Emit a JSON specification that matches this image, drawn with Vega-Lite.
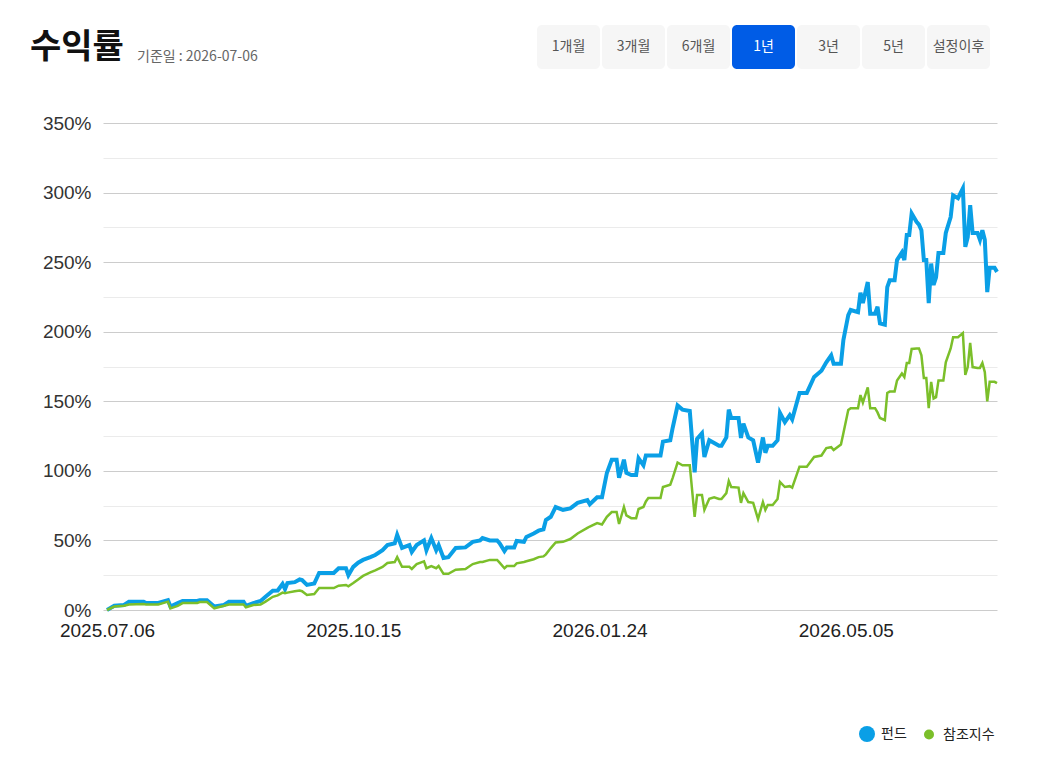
{
  "$schema": "https://vega.github.io/schema/vega-lite/v6.json",
  "background": "white",
  "padding": {"left": 30, "top": 25, "right": 40, "bottom": 10},
  "title": {
    "text": "수익률",
    "anchor": "start",
    "frame": "group",
    "baseline": "alphabetic",
    "offset": -67,
    "dx": -73,
    "font": "Noto Sans CJK KR",
    "fontSize": 34,
    "fontWeight": "bold",
    "color": "#111111"
  },
  "spacing": 54,
  "bounds": "flush",
  "vconcat": [
    {
      "width": 887,
      "height": 44,
      "title": {
        "text": "기준일 : 2026-07-06",
        "anchor": "start",
        "frame": "group",
        "baseline": "alphabetic",
        "offset": -50,
        "dx": 34,
        "font": "Noto Sans CJK KR",
        "fontSize": 14,
        "fontWeight": "normal",
        "color": "#666666"
      },
      "data": {
        "values": [
          {"label": "1개월", "selected": false},
          {"label": "3개월", "selected": false},
          {"label": "6개월", "selected": false},
          {"label": "1년", "selected": true},
          {"label": "3년", "selected": false},
          {"label": "5년", "selected": false},
          {"label": "설정이후", "selected": false}
        ]
      },
      "encoding": {
        "x": {
          "field": "label",
          "type": "nominal",
          "sort": null,
          "axis": null,
          "scale": {"range": [434, 887], "paddingInner": 0.0308, "paddingOuter": 0}
        }
      },
      "layer": [
        {
          "mark": {"type": "rect", "cornerRadius": 5},
          "encoding": {
            "fill": {"condition": {"test": "datum.selected", "value": "#005ce6"}, "value": "#f6f6f6"}
          }
        },
        {
          "mark": {"type": "text", "font": "Noto Sans CJK KR", "fontSize": 14},
          "encoding": {
            "text": {"field": "label"},
            "color": {"condition": {"test": "datum.selected", "value": "#ffffff"}, "value": "#555555"}
          }
        }
      ]
    },
    {
      "width": 894,
      "height": 487,
      "data": {
        "values": [
          {"date": "2025-07-06", "펀드": 0, "참조지수": 0},
          {"date": "2025-07-09", "펀드": 3, "참조지수": 2.5},
          {"date": "2025-07-13", "펀드": 3.6, "참조지수": 3},
          {"date": "2025-07-15", "펀드": 6, "참조지수": 4},
          {"date": "2025-07-21", "펀드": 6, "참조지수": 4.3},
          {"date": "2025-07-22", "펀드": 5, "참조지수": 4},
          {"date": "2025-07-27", "펀드": 5, "참조지수": 4},
          {"date": "2025-07-31", "펀드": 7, "참조지수": 6},
          {"date": "2025-08-01", "펀드": 2.5, "참조지수": 1.2},
          {"date": "2025-08-04", "펀드": 5, "참조지수": 3},
          {"date": "2025-08-06", "펀드": 6.5, "참조지수": 5},
          {"date": "2025-08-12", "펀드": 6.5, "참조지수": 5},
          {"date": "2025-08-13", "펀드": 7, "참조지수": 5.7},
          {"date": "2025-08-16", "펀드": 7, "참조지수": 5.7},
          {"date": "2025-08-19", "펀드": 2.5, "참조지수": 1.2},
          {"date": "2025-08-23", "펀드": 3.6, "참조지수": 3},
          {"date": "2025-08-25", "펀드": 6, "참조지수": 4},
          {"date": "2025-08-31", "펀드": 6, "참조지수": 4},
          {"date": "2025-09-01", "펀드": 3, "참조지수": 2},
          {"date": "2025-09-04", "펀드": 5, "참조지수": 3.6},
          {"date": "2025-09-07", "펀드": 6.5, "참조지수": 4},
          {"date": "2025-09-09", "펀드": 9.5, "참조지수": 6},
          {"date": "2025-09-12", "펀드": 13.8, "참조지수": 9.5},
          {"date": "2025-09-14", "펀드": 14, "참조지수": 10.5},
          {"date": "2025-09-16", "펀드": 18.7, "참조지수": 12.5},
          {"date": "2025-09-17", "펀드": 15, "참조지수": 12},
          {"date": "2025-09-18", "펀드": 19.4, "참조지수": 12.5},
          {"date": "2025-09-21", "펀드": 20, "참조지수": 13.5},
          {"date": "2025-09-23", "펀드": 22, "참조지수": 14},
          {"date": "2025-09-24", "펀드": 21.5, "참조지수": 13.5},
          {"date": "2025-09-26", "펀드": 18, "참조지수": 10.8},
          {"date": "2025-09-29", "펀드": 19, "참조지수": 11.5},
          {"date": "2025-10-01", "펀드": 26.6, "참조지수": 15.8},
          {"date": "2025-10-07", "펀드": 26.6, "참조지수": 15.8},
          {"date": "2025-10-09", "펀드": 30, "참조지수": 17.5},
          {"date": "2025-10-12", "펀드": 30, "참조지수": 18},
          {"date": "2025-10-13", "펀드": 25, "참조지수": 17},
          {"date": "2025-10-15", "펀드": 31, "참조지수": 19.4},
          {"date": "2025-10-17", "펀드": 34, "참조지수": 22},
          {"date": "2025-10-19", "펀드": 36, "참조지수": 24.5},
          {"date": "2025-10-22", "펀드": 38, "참조지수": 27},
          {"date": "2025-10-24", "펀드": 39.5, "참조지수": 28.5},
          {"date": "2025-10-27", "펀드": 43, "참조지수": 31},
          {"date": "2025-10-29", "펀드": 46.7, "참조지수": 33.8},
          {"date": "2025-11-01", "펀드": 48, "참조지수": 34.5},
          {"date": "2025-11-02", "펀드": 54, "참조지수": 38},
          {"date": "2025-11-04", "펀드": 44.6, "참조지수": 31},
          {"date": "2025-11-07", "펀드": 46.7, "참조지수": 31},
          {"date": "2025-11-08", "펀드": 41.7, "참조지수": 29.5},
          {"date": "2025-11-10", "펀드": 46.7, "참조지수": 33},
          {"date": "2025-11-13", "펀드": 50, "참조지수": 35},
          {"date": "2025-11-14", "펀드": 43, "참조지수": 30},
          {"date": "2025-11-16", "펀드": 51.7, "참조지수": 31.6},
          {"date": "2025-11-18", "펀드": 43, "참조지수": 30},
          {"date": "2025-11-19", "펀드": 46.7, "참조지수": 31.6},
          {"date": "2025-11-21", "펀드": 37.4, "참조지수": 26},
          {"date": "2025-11-23", "펀드": 38, "참조지수": 26},
          {"date": "2025-11-26", "펀드": 44.6, "참조지수": 29},
          {"date": "2025-11-30", "펀드": 45, "참조지수": 29.5},
          {"date": "2025-12-03", "펀드": 49, "참조지수": 33},
          {"date": "2025-12-06", "펀드": 50, "참조지수": 34.5},
          {"date": "2025-12-07", "펀드": 51.7, "참조지수": 34.5},
          {"date": "2025-12-10", "펀드": 50, "참조지수": 36},
          {"date": "2025-12-13", "펀드": 50, "참조지수": 36},
          {"date": "2025-12-14", "펀드": 48, "참조지수": 34},
          {"date": "2025-12-16", "펀드": 42.4, "참조지수": 30},
          {"date": "2025-12-17", "펀드": 45, "참조지수": 31.6},
          {"date": "2025-12-20", "펀드": 45, "참조지수": 31.6},
          {"date": "2025-12-21", "펀드": 49.6, "참조지수": 33.5},
          {"date": "2025-12-24", "펀드": 49, "참조지수": 34.5},
          {"date": "2025-12-25", "펀드": 52.5, "참조지수": 35},
          {"date": "2025-12-28", "펀드": 55, "참조지수": 36.5},
          {"date": "2025-12-30", "펀드": 57, "참조지수": 38},
          {"date": "2026-01-01", "펀드": 58, "참조지수": 38.5},
          {"date": "2026-01-02", "펀드": 64.7, "참조지수": 40},
          {"date": "2026-01-04", "펀드": 67, "참조지수": 44.5},
          {"date": "2026-01-06", "펀드": 74, "참조지수": 48.5},
          {"date": "2026-01-09", "펀드": 72, "참조지수": 49},
          {"date": "2026-01-12", "펀드": 73, "참조지수": 51},
          {"date": "2026-01-15", "펀드": 77, "참조지수": 55},
          {"date": "2026-01-19", "펀드": 79, "참조지수": 59},
          {"date": "2026-01-20", "펀드": 76, "참조지수": 60},
          {"date": "2026-01-23", "펀드": 81, "참조지수": 62.5},
          {"date": "2026-01-25", "펀드": 81, "참조지수": 61.5},
          {"date": "2026-01-27", "펀드": 98.5, "참조지수": 67},
          {"date": "2026-01-29", "펀드": 108, "참조지수": 70.4},
          {"date": "2026-01-31", "펀드": 108, "참조지수": 70.4},
          {"date": "2026-02-01", "펀드": 95, "참조지수": 61.8},
          {"date": "2026-02-03", "펀드": 108, "참조지수": 74},
          {"date": "2026-02-04", "펀드": 98.5, "참조지수": 68},
          {"date": "2026-02-06", "펀드": 97, "참조지수": 66},
          {"date": "2026-02-08", "펀드": 97, "참조지수": 66},
          {"date": "2026-02-09", "펀드": 109, "참조지수": 72.6},
          {"date": "2026-02-11", "펀드": 104, "참조지수": 74},
          {"date": "2026-02-12", "펀드": 111, "참조지수": 78},
          {"date": "2026-02-13", "펀드": 111, "참조지수": 80.5},
          {"date": "2026-02-18", "펀드": 111, "참조지수": 80.5},
          {"date": "2026-02-19", "펀드": 121, "참조지수": 88.4},
          {"date": "2026-02-22", "펀드": 122, "참조지수": 90},
          {"date": "2026-02-23", "펀드": 131, "참조지수": 95},
          {"date": "2026-02-25", "펀드": 147, "참조지수": 106},
          {"date": "2026-02-27", "펀드": 144, "참조지수": 104},
          {"date": "2026-03-02", "펀드": 143, "참조지수": 104},
          {"date": "2026-03-04", "펀드": 99, "참조지수": 67},
          {"date": "2026-03-05", "펀드": 123, "참조지수": 82.6},
          {"date": "2026-03-07", "펀드": 127, "참조지수": 82.6},
          {"date": "2026-03-08", "펀드": 110, "참조지수": 72},
          {"date": "2026-03-10", "펀드": 122, "참조지수": 80},
          {"date": "2026-03-12", "펀드": 120, "참조지수": 81},
          {"date": "2026-03-14", "펀드": 118, "참조지수": 79.8},
          {"date": "2026-03-15", "펀드": 118, "참조지수": 79.8},
          {"date": "2026-03-17", "펀드": 124, "참조지수": 84},
          {"date": "2026-03-18", "펀드": 144, "참조지수": 92.7},
          {"date": "2026-03-19", "펀드": 138, "참조지수": 88.4},
          {"date": "2026-03-22", "펀드": 138, "참조지수": 88},
          {"date": "2026-03-23", "펀드": 123.6, "참조지수": 77},
          {"date": "2026-03-24", "펀드": 134, "참조지수": 84},
          {"date": "2026-03-26", "펀드": 124, "참조지수": 77.6},
          {"date": "2026-03-28", "펀드": 122, "참조지수": 77},
          {"date": "2026-03-30", "펀드": 106, "참조지수": 65.4},
          {"date": "2026-04-01", "펀드": 124, "참조지수": 77.6},
          {"date": "2026-04-02", "펀드": 113, "참조지수": 72},
          {"date": "2026-04-03", "펀드": 118, "참조지수": 75.5},
          {"date": "2026-04-05", "펀드": 118, "참조지수": 75.5},
          {"date": "2026-04-07", "펀드": 122, "참조지수": 79.8},
          {"date": "2026-04-08", "펀드": 141.6, "참조지수": 92},
          {"date": "2026-04-10", "펀드": 135, "참조지수": 88.4},
          {"date": "2026-04-12", "펀드": 140, "참조지수": 89},
          {"date": "2026-04-13", "펀드": 137, "참조지수": 88},
          {"date": "2026-04-16", "펀드": 156, "참조지수": 103},
          {"date": "2026-04-19", "펀드": 156, "참조지수": 103},
          {"date": "2026-04-22", "펀드": 167.5, "참조지수": 110},
          {"date": "2026-04-25", "펀드": 172, "참조지수": 111},
          {"date": "2026-04-27", "펀드": 178, "참조지수": 116.4},
          {"date": "2026-04-29", "펀드": 183, "참조지수": 117},
          {"date": "2026-04-30", "펀드": 177, "참조지수": 115},
          {"date": "2026-05-03", "펀드": 177, "참조지수": 119},
          {"date": "2026-05-04", "펀드": 194, "참조지수": 127},
          {"date": "2026-05-06", "펀드": 212, "참조지수": 143.7},
          {"date": "2026-05-07", "펀드": 215.6, "참조지수": 145},
          {"date": "2026-05-10", "펀드": 214, "참조지수": 145},
          {"date": "2026-05-11", "펀드": 228, "참조지수": 154.5},
          {"date": "2026-05-12", "펀드": 220.6, "참조지수": 149},
          {"date": "2026-05-14", "펀드": 235.7, "참조지수": 160},
          {"date": "2026-05-15", "펀드": 213, "참조지수": 145},
          {"date": "2026-05-17", "펀드": 213, "참조지수": 145},
          {"date": "2026-05-18", "펀드": 218, "참조지수": 142},
          {"date": "2026-05-19", "펀드": 206, "참조지수": 138},
          {"date": "2026-05-21", "펀드": 205, "참조지수": 136.5},
          {"date": "2026-05-22", "펀드": 232, "참조지수": 156},
          {"date": "2026-05-23", "펀드": 237, "참조지수": 157},
          {"date": "2026-05-25", "펀드": 237, "참조지수": 157},
          {"date": "2026-05-26", "펀드": 251.5, "참조지수": 165},
          {"date": "2026-05-28", "펀드": 257, "참조지수": 170},
          {"date": "2026-05-29", "펀드": 251.5, "참조지수": 167.5},
          {"date": "2026-05-30", "펀드": 269.5, "참조지수": 177.5},
          {"date": "2026-05-31", "펀드": 269.5, "참조지수": 177.5},
          {"date": "2026-06-01", "펀드": 285, "참조지수": 187.6},
          {"date": "2026-06-03", "펀드": 279, "참조지수": 188},
          {"date": "2026-06-04", "펀드": 277, "참조지수": 188},
          {"date": "2026-06-05", "펀드": 273, "참조지수": 183},
          {"date": "2026-06-06", "펀드": 251.5, "참조지수": 166.7},
          {"date": "2026-06-07", "펀드": 251.5, "참조지수": 166.7},
          {"date": "2026-06-08", "펀드": 220.6, "참조지수": 145},
          {"date": "2026-06-09", "펀드": 249, "참조지수": 164},
          {"date": "2026-06-10", "펀드": 233.6, "참조지수": 152},
          {"date": "2026-06-11", "펀드": 239, "참조지수": 153},
          {"date": "2026-06-12", "펀드": 256.6, "참조지수": 165},
          {"date": "2026-06-14", "펀드": 256.6, "참조지수": 165},
          {"date": "2026-06-15", "펀드": 271, "참조지수": 178},
          {"date": "2026-06-17", "펀드": 282.4, "참조지수": 188},
          {"date": "2026-06-18", "펀드": 298, "참조지수": 196},
          {"date": "2026-06-20", "펀드": 296, "참조지수": 196},
          {"date": "2026-06-22", "펀드": 303, "참조지수": 199},
          {"date": "2026-06-23", "펀드": 261, "참조지수": 169},
          {"date": "2026-06-24", "펀드": 268, "참조지수": 174.6},
          {"date": "2026-06-25", "펀드": 291, "참조지수": 192},
          {"date": "2026-06-26", "펀드": 271, "참조지수": 174.6},
          {"date": "2026-06-28", "펀드": 271, "참조지수": 174},
          {"date": "2026-06-29", "펀드": 266, "참조지수": 174},
          {"date": "2026-06-30", "펀드": 273, "참조지수": 177.5},
          {"date": "2026-07-01", "펀드": 266, "참조지수": 171},
          {"date": "2026-07-02", "펀드": 228.5, "참조지수": 150},
          {"date": "2026-07-03", "펀드": 246, "참조지수": 164},
          {"date": "2026-07-05", "펀드": 246, "참조지수": 164},
          {"date": "2026-07-06", "펀드": 243, "참조지수": 163}
        ]
      },
      "transform": [{"fold": ["펀드", "참조지수"], "as": ["series", "value"]}],
      "encoding": {
        "x": {
          "field": "date",
          "type": "temporal",
          "scale": {
            "type": "utc",
            "domain": [
              {"year": 2025, "month": 7, "date": 4, "hours": 8, "minutes": 35, "utc": true},
              {"year": 2026, "month": 7, "date": 6, "utc": true}
            ]
          },
          "axis": {
            "values": [
              {"year": 2025, "month": 7, "date": 6, "utc": true},
              {"year": 2025, "month": 10, "date": 15, "utc": true},
              {"year": 2026, "month": 1, "date": 24, "utc": true},
              {"year": 2026, "month": 5, "date": 5, "utc": true}
            ],
            "format": "%Y.%m.%d",
            "title": null,
            "grid": false,
            "domain": false,
            "ticks": false,
            "labelFlush": false,
            "labelOverlap": false,
            "labelFont": "Liberation Sans",
            "labelFontSize": 19,
            "labelColor": "#222222",
            "labelPadding": 11
          }
        },
        "y": {
          "field": "value",
          "type": "quantitative",
          "scale": {"domain": [0, 350], "nice": false},
          "axis": {
            "values": [0, 25, 50, 75, 100, 125, 150, 175, 200, 225, 250, 275, 300, 325, 350],
            "labelExpr": "datum.value % 50 === 0 ? datum.value + '%' : ''",
            "gridColor": {"condition": {"test": "datum.value % 50 === 0", "value": "#cccccc"}, "value": "#ebebeb"},
            "title": null,
            "domain": false,
            "ticks": false,
            "labelFont": "Liberation Sans",
            "labelFontSize": 19,
            "labelColor": "#333333",
            "labelPadding": 12
          }
        },
        "color": {
          "field": "series",
          "type": "nominal",
          "scale": {"domain": ["펀드", "참조지수"], "range": ["#0a9fe6", "#7bbf2a"]},
          "legend": {
            "orient": "none",
            "legendX": 757,
            "legendY": 702,
            "direction": "horizontal",
            "title": null,
            "symbolType": "circle",
            "symbolSize": 256,
            "symbolStrokeWidth": 0,
            "labelFont": "Noto Sans CJK KR",
            "labelFontSize": 14,
            "labelColor": "#222222",
            "labelOffset": 7,
            "columnPadding": 15,
            "encode": {
              "symbols": {
                "update": {
                  "size": {"signal": "datum.value === '펀드' ? 256 : 100"},
                  "fill": {"signal": "datum.value === '펀드' ? '#0a9fe6' : '#7bbf2a'"},
                  "strokeWidth": {"value": 0},
                  "opacity": {"value": 1}
                }
              }
            }
          }
        }
      },
      "layer": [
        {
          "transform": [{"filter": "datum.series === '펀드'"}],
          "mark": {"type": "line", "strokeWidth": 4}
        },
        {
          "transform": [{"filter": "datum.series === '참조지수'"}],
          "mark": {"type": "line", "strokeWidth": 2.5}
        }
      ]
    }
  ],
  "config": {
    "view": {"stroke": null}
  }
}
